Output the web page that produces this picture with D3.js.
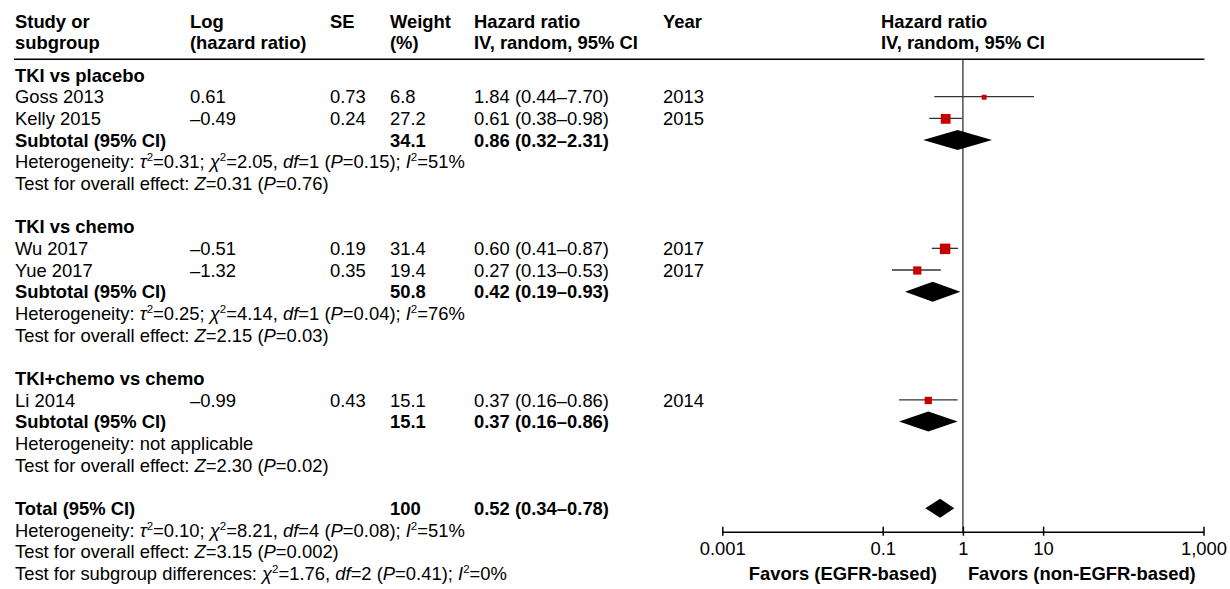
<!DOCTYPE html>
<html><head><meta charset="utf-8">
<script src="https://cdn.jsdelivr.net/npm/d3@7"></script>
<style>
html,body{margin:0;padding:0;background:#fff;}
svg{display:block;font-family:"Liberation Sans",Arial,Helvetica,sans-serif;}
</style></head><body>
<svg id="chart" width="1230" height="589"></svg>
<script>
// ---------- data ----------
const groupNames = ["TKI vs placebo", "TKI vs chemo", "TKI+chemo vs chemo"];
const studyNames = ["Goss 2013", "Kelly 2015", "Wu 2017", "Yue 2017", "Li 2014"];
const studyGroup = [0, 0, 1, 1, 2];
const logHR = ["0.61", "–0.49", "–0.51", "–1.32", "–0.99"];
const seValues = ["0.73", "0.24", "0.19", "0.35", "0.43"];
const weights = [6.8, 27.2, 31.4, 19.4, 15.1];
const hr = [1.84, 0.61, 0.60, 0.27, 0.37];
const hrLow = [0.44, 0.38, 0.41, 0.13, 0.16];
const hrHigh = [7.70, 0.98, 0.87, 0.53, 0.86];
const years = ["2013", "2015", "2017", "2017", "2014"];
const subWeights = ["34.1", "50.8", "15.1"];
const subHR = [0.86, 0.42, 0.37];
const subLow = [0.32, 0.19, 0.16];
const subHigh = [2.31, 0.93, 0.86];
const subHet = [
  "Heterogeneity: _τ_^2^=0.31; _χ_^2^=2.05, _df_=1 (_P_=0.15); _I_^2^=51%",
  "Heterogeneity: _τ_^2^=0.25; _χ_^2^=4.14, _df_=1 (_P_=0.04); _I_^2^=76%",
  "Heterogeneity: not applicable"
];
const subOverall = [
  "Test for overall effect: _Z_=0.31 (_P_=0.76)",
  "Test for overall effect: _Z_=2.15 (_P_=0.03)",
  "Test for overall effect: _Z_=2.30 (_P_=0.02)"
];
const totalWeight = "100";
const totalHR = 0.52, totalLow = 0.34, totalHigh = 0.78;
const totalNotes = [
  "Heterogeneity: _τ_^2^=0.10; _χ_^2^=8.21, _df_=4 (_P_=0.08); _I_^2^=51%",
  "Test for overall effect: _Z_=3.15 (_P_=0.002)",
  "Test for subgroup differences: _χ_^2^=1.76, _df_=2 (_P_=0.41); _I_^2^=0%"
];
const tickValues = [0.001, 0.1, 1, 10, 1000];
const tickLabels = ["0.001", "0.1", "1", "10", "1,000"];
const headers = [
  ["Study or", "subgroup"], ["Log", "(hazard ratio)"], ["SE", ""], ["Weight", "(%)"],
  ["Hazard ratio", "IV, random, 95% CI"], ["Year", ""], ["Hazard ratio", "IV, random, 95% CI"]
];
const favorLabels = ["Favors (EGFR-based)", "Favors (non-EGFR-based)"];

// ---------- layout ----------
const svg = d3.select("#chart");
const colX = {study: 15, log: 190, se: 330, weight: 390, hr: 474, year: 663, plot: 881};
const rowY = i => 53.4 + 21.66 * i;
const FS = 18.4;
const axisY = 531.7, headLineY = 59.3;
const x = d3.scaleLog().domain([0.001, 1000]).range([722.3, 1203.5]);
const sq = d3.scaleSqrt().domain([0, 31.4]).range([0, 10.5]);
const fmt = d3.format(".2f");
const hrText = (e, l, h) => `${fmt(e)} (${fmt(l)}–${fmt(h)})`;

function txt(xp, y, s, bold) {
  return svg.append("text").attr("x", xp).attr("y", y).attr("dy", "0.36em")
    .attr("font-size", FS).attr("font-weight", bold ? "bold" : "normal")
    .attr("fill", "#000").text(s);
}
function rich(xp, y, s) {
  const t = svg.append("text").attr("x", xp).attr("y", y).attr("dy", "0.36em")
    .attr("font-size", FS).attr("fill", "#000");
  const parts = s.split(/(_[^_]+_|\^[^^]+\^)/).filter(p => p.length);
  let raised = false;
  parts.forEach(p => {
    if (p[0] === "_") {
      const ts = t.append("tspan").attr("font-style", "italic").text(p.slice(1, -1));
      if (raised) { ts.attr("dy", 7); raised = false; }
    } else if (p[0] === "^") {
      t.append("tspan").attr("font-size", 11.5).attr("dy", -7).text(p.slice(1, -1));
      raised = true;
    } else {
      const ts = t.append("tspan").text(p);
      if (raised) { ts.attr("dy", 7); raised = false; }
    }
  });
}

// headers
const hx = [colX.study, colX.log, colX.se, colX.weight, colX.hr, colX.year, colX.plot];
headers.forEach((h, i) => {
  svg.append("text").attr("x", hx[i]).attr("y", 28.3).attr("font-size", FS)
    .attr("font-weight", "bold").text(h[0]);
  if (h[1]) svg.append("text").attr("x", hx[i]).attr("y", 49).attr("font-size", FS)
    .attr("font-weight", "bold").text(h[1]);
});
svg.append("line").attr("x1", 14).attr("x2", 1204.4).attr("y1", headLineY).attr("y2", headLineY)
  .attr("stroke", "#000").attr("stroke-width", 1.4);

// null line
svg.append("line").attr("x1", x(1)).attr("x2", x(1)).attr("y1", headLineY).attr("y2", axisY)
  .attr("stroke", "#333").attr("stroke-width", 1.3);

// rows
let r = 1;
groupNames.forEach((g, gi) => {
  txt(colX.study, rowY(r), g, true); r++;
  studyNames.forEach((s, si) => {
    if (studyGroup[si] !== gi) return;
    const y = rowY(r);
    txt(colX.study, y, s, false);
    txt(colX.log, y, logHR[si], false);
    txt(colX.se, y, seValues[si], false);
    txt(colX.weight, y, String(weights[si]), false);
    txt(colX.hr, y, hrText(hr[si], hrLow[si], hrHigh[si]), false);
    txt(colX.year, y, years[si], false);
    svg.append("line").attr("x1", x(hrLow[si])).attr("x2", x(hrHigh[si]))
      .attr("y1", y).attr("y2", y).attr("stroke", "#333").attr("stroke-width", 1.3);
    const s2 = sq(weights[si]);
    svg.append("rect").attr("x", x(hr[si]) - s2 / 2).attr("y", y - s2 / 2 + 0.5)
      .attr("width", s2).attr("height", s2).attr("fill", "#c80000");
    r++;
  });
  const y = rowY(r);
  txt(colX.study, y, "Subtotal (95% CI)", true);
  txt(colX.weight, y, subWeights[gi], true);
  txt(colX.hr, y, hrText(subHR[gi], subLow[gi], subHigh[gi]), true);
  svg.append("path").attr("d",
    `M${x(subLow[gi])},${y}L${x(subHR[gi])},${y - 10}L${x(subHigh[gi])},${y}L${x(subHR[gi])},${y + 10}Z`)
    .attr("fill", "#000");
  r++;
  rich(colX.study, rowY(r), subHet[gi]); r++;
  rich(colX.study, rowY(r), subOverall[gi]); r++;
  r++;
});
const ty = rowY(r);
txt(colX.study, ty, "Total (95% CI)", true);
txt(colX.weight, ty, totalWeight, true);
txt(colX.hr, ty, hrText(totalHR, totalLow, totalHigh), true);
svg.append("path").attr("d",
  `M${x(totalLow)},${ty}L${x(totalHR)},${ty - 9.5}L${x(totalHigh)},${ty}L${x(totalHR)},${ty + 9.5}Z`)
  .attr("fill", "#000");
r++;
totalNotes.forEach(n => { rich(colX.study, rowY(r), n); r++; });

// axis
const ax = svg.append("g").attr("transform", `translate(0,${axisY})`)
  .call(d3.axisBottom(x).tickValues(tickValues).tickFormat((d, i) => tickLabels[i])
    .tickSizeInner(4).tickSizeOuter(0));
ax.select(".domain").attr("stroke", "#000").attr("stroke-width", 1.5);
ax.selectAll(".tick line").attr("y1", -5).attr("y2", 4).attr("stroke", "#000").attr("stroke-width", 1.5);
ax.selectAll(".tick text").attr("y", 10).attr("font-size", FS)
  .attr("font-family", "\"Liberation Sans\",Arial,sans-serif").attr("fill", "#000");
ax.attr("font-family", null).attr("font-size", null);

svg.append("text").attr("x", x(1) - 26).attr("y", 580).attr("text-anchor", "end")
  .attr("font-size", FS).attr("font-weight", "bold").text(favorLabels[0]);
svg.append("text").attr("x", x(1) + 5).attr("y", 580).attr("text-anchor", "start")
  .attr("font-size", FS).attr("font-weight", "bold").text(favorLabels[1]);
</script>
</body></html>
